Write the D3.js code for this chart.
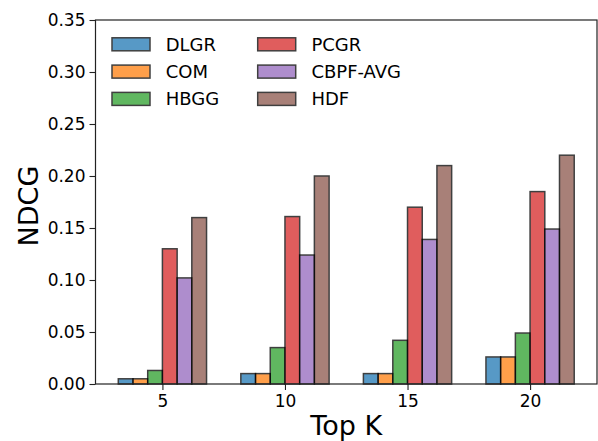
<!DOCTYPE html>
<html>
<head>
<meta charset="utf-8">
<script src="https://cdn.jsdelivr.net/npm/d3@7"></script>
<style>
    body { margin: 0; background: white; }
    svg text { font-family: "DejaVu Sans", sans-serif; fill: black; }
</style>
</head>
<body>
<svg id="chart" width="598" height="441"></svg>
<script>
    // data
    const topK = [5, 10, 15, 20];
    const methods = ['DLGR', 'COM', 'HBGG', 'PCGR', 'CBPF-AVG', 'HDF'];
    const colours = ['#1f77b4', '#ff7f0e', '#2ca02c', '#d62728', '#9467bd', '#8c564b'];
    const dlgr = [0.005, 0.010, 0.010, 0.026];
    const com = [0.005, 0.010, 0.010, 0.026];
    const hbgg = [0.013, 0.035, 0.042, 0.049];
    const pcgr = [0.130, 0.161, 0.170, 0.185];
    const cbpf = [0.102, 0.124, 0.139, 0.149];
    const hdf = [0.160, 0.200, 0.210, 0.220];
    const yTicks = [0, 0.05, 0.10, 0.15, 0.20, 0.25, 0.30, 0.35];

    const series = [dlgr, com, hbgg, pcgr, cbpf, hdf];
    const barW = 0.6;

    const plotL = 95.5, plotR = 597, plotT = 20, plotB = 384;
    const svg = d3.select('#chart');

    // x domain with the same 5% margin matplotlib adds around the bars
    const x0 = topK[0] - 3 * barW, x1 = topK[topK.length - 1] + 3 * barW;
    const pad = (x1 - x0) * 0.05;
    const x = d3.scaleLinear().domain([x0 - pad, x1 + pad]).range([plotL, plotR]);
    const y = d3.scaleLinear().domain([0, 0.35]).range([plotB, plotT]);

    // bars
    series.forEach((vals, i) => {
        svg.append('g')
            .selectAll('rect')
            .data(vals)
            .join('rect')
            .attr('x', (d, j) => x(topK[j] + (i - 3) * barW))
            .attr('y', d => y(d))
            .attr('width', x(barW) - x(0))
            .attr('height', d => y(0) - y(d))
            .attr('fill', colours[i])
            .attr('stroke', 'black')
            .attr('stroke-width', 1.5)
            .attr('opacity', 0.75);
    });

    // axes
    const yAxis = d3.axisLeft(y).tickValues(yTicks).tickFormat(d3.format('.2f')).tickSize(6).tickPadding(4);
    const gy = svg.append('g').attr('transform', `translate(${plotL},0)`).call(yAxis);
    const xAxis = d3.axisBottom(x).tickValues(topK).tickSize(6).tickPadding(5);
    const gx = svg.append('g').attr('transform', `translate(0,${plotB})`).call(xAxis);
    [gx, gy].forEach(g => {
        g.select('.domain').remove();
        g.selectAll('line').attr('stroke', '#222').attr('stroke-width', 1.1);
        g.selectAll('text').style('font-size', '17px').style('font-family', '"DejaVu Sans", sans-serif');
    });

    // frame
    svg.append('rect')
        .attr('x', plotL).attr('y', plotT)
        .attr('width', plotR - plotL).attr('height', plotB - plotT)
        .attr('fill', 'none').attr('stroke', '#222').attr('stroke-width', 1.2);

    // axis labels
    svg.append('text')
        .attr('x', (plotL + plotR) / 2).attr('y', 434.5)
        .attr('text-anchor', 'middle')
        .style('font-size', '27px')
        .text('Top K');
    svg.append('text')
        .attr('transform', `translate(37.5,${(plotT + plotB) / 2 + 4}) rotate(-90)`)
        .attr('text-anchor', 'middle')
        .style('font-size', '27px')
        .text('NDCG');

    // legend, two columns of three
    const legend = svg.append('g');
    methods.forEach((m, i) => {
        const col = Math.floor(i / 3), row = i % 3;
        const lx = 112 + col * 145.7, ly = 44.3 + row * 27.3;
        legend.append('rect')
            .attr('x', lx).attr('y', ly - 6.5)
            .attr('width', 38).attr('height', 13)
            .attr('fill', colours[i])
            .attr('stroke', 'black')
            .attr('stroke-width', 1.5)
            .attr('opacity', 0.75);
        legend.append('text')
            .attr('x', lx + 53.7).attr('y', ly)
            .attr('dy', '0.36em')
            .style('font-size', '18px')
            .text(m);
    });
</script>
</body>
</html>
